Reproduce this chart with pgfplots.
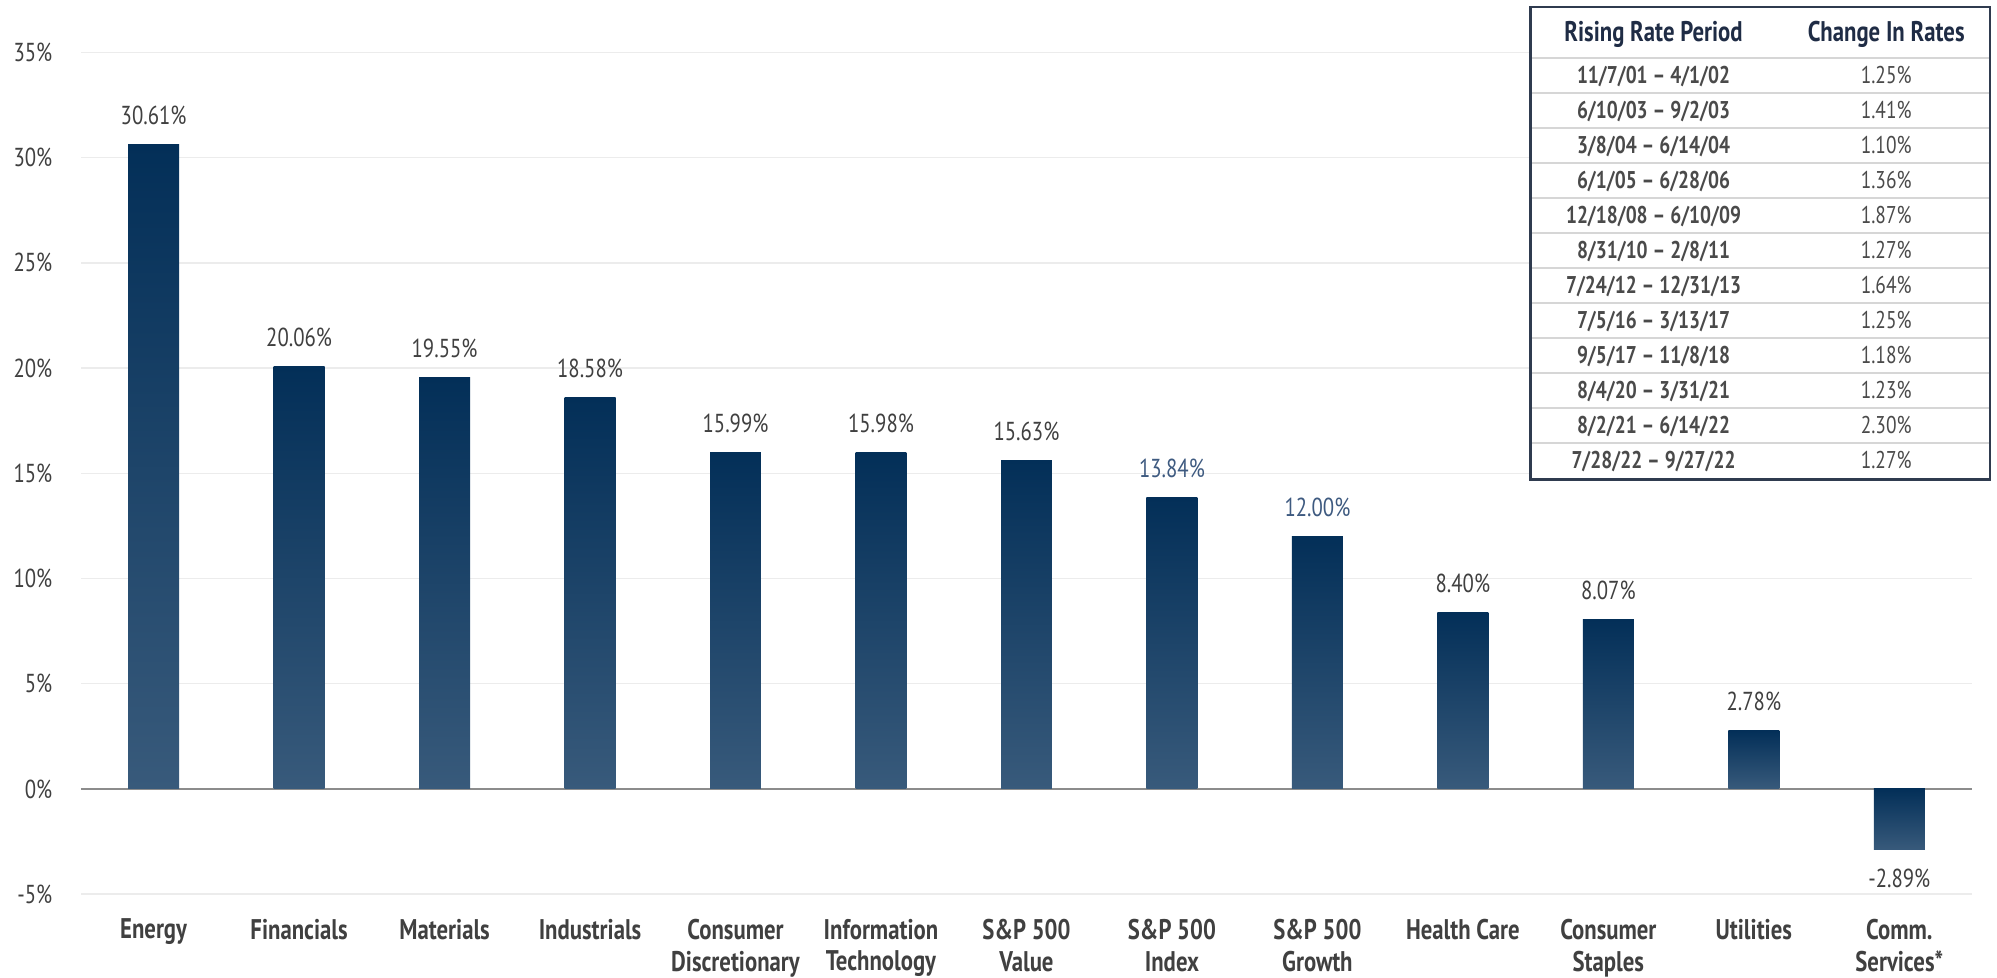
\documentclass[border=0pt]{standalone}
\usepackage{fontspec}
\setmainfont{PT Sans}[FakeStretch=0.8]
\usepackage{pgfplots}
\pgfplotsset{compat=1.18}
\usepackage{pgfplotstable}

\definecolor{bartop}{RGB}{3,47,88}
\definecolor{barbot}{RGB}{56,90,123}
\definecolor{txtgray}{RGB}{64,64,64}
\definecolor{lblue}{RGB}{62,90,128}
\definecolor{gridgray}{RGB}{236,236,236}
\definecolor{zerogray}{RGB}{140,140,140}
\definecolor{tabborder}{RGB}{47,59,79}
\definecolor{tabhead}{RGB}{31,44,69}
\definecolor{tabline}{RGB}{214,214,214}
\definecolor{tabtext}{RGB}{74,74,74}

\newcommand{\ticfont}{\fontsize{7.4}{9}\selectfont}
\newcommand{\xlabfont}{\fontsize{8.1}{9.1}\selectfont\bfseries}

% sector returns during rising rate periods
\pgfplotstableread{
x y
0 30.61
1 20.06
2 19.55
3 18.58
4 15.99
5 15.98
6 15.63
7 13.84
8 12.00
9 8.40
10 8.07
11 2.78
12 -2.89
}\returns

\pgfplotsset{
  lab7/.style={every node near coord/.append style={text=lblue}},
  lab8/.style={every node near coord/.append style={text=lblue}},
}

\begin{document}
\begin{tikzpicture}
\useasboundingbox (0,0) rectangle (20,9.785);
\begin{axis}[
  at={(0.81cm,0.83cm)}, anchor=south west,
  scale only axis, width=18.94cm, height=8.43cm,
  xmin=-0.5, xmax=12.5, ymin=-5, ymax=35,
  ybar, bar width=0.51cm, bar shift=0pt,
  axis line style={draw=none},
  major tick length=0pt,
  xtick={0,...,12},
  xticklabels={Energy, Financials, Materials, Industrials,
    {Consumer\\Discretionary}, {Information\\Technology},
    {S\&P 500\\Value}, {S\&P 500\\Index}, {S\&P 500\\Growth},
    Health Care, {Consumer\\Staples}, Utilities, {Comm.\\Services*}},
  xticklabel style={font=\xlabfont, text=txtgray, align=center,
    anchor=north, inner sep=0pt, yshift=-0.24cm},
  ytick={-5,0,5,10,15,20,25,30,35},
  yticklabels={-5\%,0\%,5\%,10\%,15\%,20\%,25\%,30\%,35\%},
  yticklabel style={font=\ticfont, text=txtgray, anchor=east,
    inner sep=0pt, xshift=-0.28cm},
  ymajorgrids, grid style={color=gridgray, line width=0.4pt},
  extra y ticks={0}, extra y tick labels={},
  extra y tick style={grid style={color=zerogray, line width=0.6pt}},
  point meta=y,
  nodes near coords={\pgfmathprintnumber[fixed, fixed zerofill, precision=2, assume math mode=true]{\pgfplotspointmeta}\%},
  every node near coord/.append style={font=\ticfont, text=txtgray,
    inner xsep=0pt, inner ysep=0.19cm},
]
% one plot per bar so that each bar gets its own gradient
\pgfplotsinvokeforeach{0,...,12}{
  \addplot[draw=none, top color=bartop, bottom color=barbot, lab#1/.try]
    table[x=x, y=y, restrict x to domain=#1:#1] {\returns};
}
\end{axis}

% rising rate period table
\fill[white] (15.33,4.98) rectangle (19.93,9.715);
\foreach \i in {0,...,11}
  \draw[tabline, line width=0.55pt] (15.33,9.20-\i*0.3505) -- (19.93,9.20-\i*0.3505);
\draw[tabborder, line width=0.8pt] (15.33,4.98) rectangle (19.93,9.715);
\node[anchor=base, text=tabhead, font=\xlabfont, inner sep=0pt] at (16.56,9.37) {Rising Rate Period};
\node[anchor=base, text=tabhead, font=\xlabfont, inner sep=0pt] at (18.89,9.37) {Change In Rates};
\foreach \d/\r [count=\i from 0] in {
  {11/7/01 – 4/1/02}/1.25, {6/10/03 – 9/2/03}/1.41, {3/8/04 – 6/14/04}/1.10,
  {6/1/05 – 6/28/06}/1.36, {12/18/08 – 6/10/09}/1.87, {8/31/10 – 2/8/11}/1.27,
  {7/24/12 – 12/31/13}/1.64, {7/5/16 – 3/13/17}/1.25, {9/5/17 – 11/8/18}/1.18,
  {8/4/20 – 3/31/21}/1.23, {8/2/21 – 6/14/22}/2.30, {7/28/22 – 9/27/22}/1.27}{
  \pgfmathsetmacro\yy{9.20-(\i+0.5)*0.3505-0.08}
  \node[anchor=base, text=tabtext, font=\fontsize{6.9}{8}\selectfont\bfseries, inner sep=0pt] at (16.56,\yy) {\d};
  \node[anchor=base, text=tabtext, font=\fontsize{6.9}{8}\selectfont, inner sep=0pt] at (18.89,\yy) {\r\%};
}
\end{tikzpicture}
\end{document}
